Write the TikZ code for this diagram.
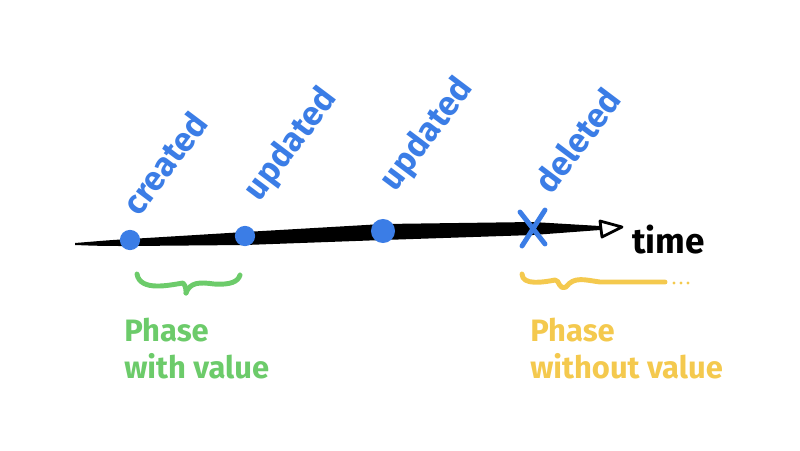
\documentclass[tikz,border=0pt]{standalone}
\usepackage{fontspec}
\setmainfont{Fira Sans}
\definecolor{sblue}{HTML}{3B7DE6}
\definecolor{sgreen}{HTML}{6CCB6A}
\definecolor{syellow}{HTML}{F4C94E}
\tikzset{
  evlabel/.style={text=sblue, rotate=53, anchor=south west, font=\bfseries\fontsize{24}{26}\selectfont, inner sep=0pt},
  evdot/.style={circle, fill=sblue, inner sep=0pt},
  phasetext/.style={anchor=north west, align=left, font=\bfseries\fontsize{22}{26}\selectfont, inner sep=0pt},
  penline/.style={line width=3.5pt, line cap=round, line join=round}
}
\begin{document}
\begin{tikzpicture}[x=0.025cm, y=-0.025cm]
\useasboundingbox (0,0) rectangle (800,450);
% timeline body
\fill[black] (75,243) .. controls (100,241) and (110,240) .. (130,239)
  -- (245,232) -- (383,224) -- (533,222) -- (600,226)
  -- (600,230) -- (533,235) -- (383,240) -- (245,245) -- (130,246)
  .. controls (110,246) and (100,246) .. (75,245) -- cycle;
% arrow head
\coordinate (ah1) at (600,221);
\coordinate (ah2) at (622,227);
\coordinate (ah3) at (602,237);
\draw[black, line width=2pt, line join=round] (ah1) -- (ah2) -- (ah3) -- cycle;
\node[anchor=west, font=\bfseries\fontsize{25}{27}\selectfont, inner sep=0pt] (time) at (632,240) {time};
% events
\node[evdot, minimum size=16pt*0.9] (c) at (130,240) {};
\node[evdot, minimum size=16pt*0.9] (u1) at (245,236) {};
\node[evdot, minimum size=19pt*0.9] (u2) at (383,231) {};
\coordinate (x0) at (533,228);
\draw[sblue, penline] (520,212) -- (545,244);
\draw[sblue, penline] (545,210) -- (522,246);
\node[evlabel] (lc) at (140,218) {created};
\node[evlabel] (lu1) at (266,207) {updated};
\node[evlabel] (lu2) at (402,197) {updated};
\node[evlabel] (ld) at (552,196) {deleted};
% green brace
\draw[sgreen, penline] (137,274) .. controls (140,292) and (170,285) .. (183,283)
  .. controls (186,286) and (186,290) .. (186,293);
\draw[sgreen, penline] (186,293) .. controls (190,282) and (200,282) .. (214,284)
  .. controls (230,285) and (238,282) .. (240,275);
\node[phasetext, text=sgreen] (pw) at (124,318) {Phase\\with value};
% yellow wave
\draw[syellow, penline] (522,274) .. controls (522,286) and (545,282) .. (555,280)
  .. controls (560,280) and (558,290) .. (566,287)
  .. controls (574,276) and (585,280) .. (600,282) -- (665,282);
\fill[syellow] (674,283) circle (1.6) (681,283) circle (1.6) (688,283) circle (1.6);
\node[phasetext, text=syellow] (pwo) at (530,318) {Phase\\without value};
\end{tikzpicture}
\end{document}
